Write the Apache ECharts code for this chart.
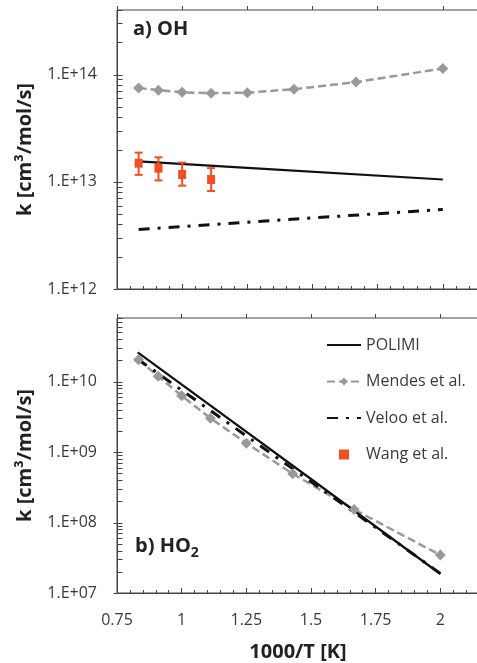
<!DOCTYPE html>
<html>
<head>
<meta charset="utf-8">
<script src="https://cdn.jsdelivr.net/npm/echarts@6/dist/echarts.min.js"></script>
<style>
  html, body { margin: 0; padding: 0; background: #fff; }
  #chart { width: 477px; height: 663px; }
</style>
</head>
<body>
<div id="chart"></div>
<script>
// 1000/T positions of the model points (T = 1200 ... 500 K)
const invT = [0.833, 0.909, 1.0, 1.111, 1.25, 1.429, 1.667, 2.0]
const lineX = [0.833, 1.25, 2.0]
const lineXHo2 = [0.83, 1.5, 2.0]

// a) OH
const ohMendes = [7.5e13, 7.14e13, 6.84e13, 6.7e13, 6.78e13, 7.3e13, 8.5e13, 1.14e14]
const ohPolimi = [1.55e13, 1.35e13, 1.05e13]
const ohVeloo = [3.59e12, 4.2e12, 5.52e12]
const wangX = [0.833, 0.909, 1.0, 1.111]
const wangK = [1.49e13, 1.34e13, 1.17e13, 1.05e13]
const wangLow = [1.16e13, 1.03e13, 9.2e12, 8.2e12]
const wangHigh = [1.87e13, 1.69e13, 1.51e13, 1.34e13]

// b) HO2
const ho2Mendes = [2.05e10, 1.19e10, 6.3e9, 3.03e9, 1.34e9, 4.93e8, 1.53e8, 3.45e7]
const ho2Polimi = [2.6e10, 4.15e8, 1.86e7]
const ho2Veloo = [2.09e10, 3.8e8, 1.9e7]

const xTicks = [0.75, 2.25, 0.25]
const ohRange = [1e12, 4e14]
const ho2Range = [1e7, 8e10]

const FONT = '"Open Sans", "DejaVu Sans", sans-serif'
const AXIS = '#444'
const TXT = '#3a3a3a'
const GRAY = '#999'
const ORANGE = '#f04e23'

const zip = (xs, ys) => xs.map((x, i) => [x, ys[i]])

function logTicks(range) {
  const out = []
  for (let e = Math.floor(Math.log10(range[0])); e <= Math.ceil(Math.log10(range[1])); e++) {
    for (let m = 1; m <= 9; m++) {
      const v = m * Math.pow(10, e)
      if (v >= range[0] * 0.999 && v <= range[1] * 1.001) out.push([xTicks[0], v])
    }
  }
  return out
}

const isDecade = v => Math.abs(Math.log10(v) - Math.round(Math.log10(v))) < 1e-6

function sciLabel(v) {
  if (!isDecade(v)) return ''
  const e = Math.round(Math.log10(v))
  return '1.E+' + (e < 10 ? '0' + e : e)
}

function yTickItem(params, api) {
  const v = api.value(1)
  const p = api.coord([api.value(0), v])
  const y = Math.round(p[1]) + 0.5
  const x = Math.round(p[0]) + 0.5
  return {
    type: 'line',
    shape: { x1: x - (isDecade(v) ? 4 : 0), y1: y, x2: x + 5, y2: y },
    style: { stroke: AXIS, lineWidth: 1 }
  }
}

function errItem(params, api) {
  const x = api.value(0)
  const lo = api.coord([x, api.value(1)])
  const hi = api.coord([x, api.value(2)])
  const st = { stroke: ORANGE, lineWidth: 2 }
  return {
    type: 'group',
    children: [
      { type: 'line', shape: { x1: lo[0], y1: lo[1], x2: hi[0], y2: hi[1] }, style: st },
      { type: 'line', shape: { x1: lo[0] - 4, y1: lo[1], x2: lo[0] + 4, y2: lo[1] }, style: st },
      { type: 'line', shape: { x1: hi[0] - 4, y1: hi[1], x2: hi[0] + 4, y2: hi[1] }, style: st }
    ]
  }
}

function xAxes(grid, labels) {
  const base = {
    gridIndex: grid,
    type: 'value',
    min: xTicks[0],
    max: xTicks[1],
    interval: xTicks[2],
    splitLine: { show: false }
  }
  return [
    Object.assign({}, base, {
      axisLine: { lineStyle: { color: AXIS, width: 1 } },
      axisTick: { inside: true, length: 5, lineStyle: { color: AXIS } },
      minorTick: { show: true, splitNumber: 5, length: 3, lineStyle: { color: AXIS } },
      axisLabel: {
        show: labels,
        margin: 19,
        color: TXT,
        fontSize: 16,
        fontFamily: FONT
      }
    }),
    Object.assign({}, base, {
      axisLine: { show: false },
      axisTick: { inside: false, length: 4, lineStyle: { color: AXIS } },
      axisLabel: { show: false }
    })
  ]
}

function yAxis(grid, range) {
  return {
    gridIndex: grid,
    type: 'log',
    logBase: 10,
    min: range[0],
    max: range[1],
    name: 'k [cm³/mol/s]',
    nameLocation: 'middle',
    nameGap: 82,
    nameTextStyle: { fontSize: 20, fontWeight: 'bold', color: '#222', fontFamily: FONT },
    axisLine: { show: true, lineStyle: { color: AXIS, width: 1 } },
    axisTick: { show: false },
    splitLine: { show: false },
    axisLabel: { margin: 20, color: TXT, fontSize: 16, fontFamily: FONT, formatter: sciLabel }
  }
}

const dashDot = [11, 8, 3, 8]
const hideSymbol = { opacity: 0 }

const chart = echarts.init(document.getElementById('chart'), null, { renderer: 'canvas' })
chart.setOption({
  animation: false,
  backgroundColor: '#fff',
  grid: [
    { left: 117, top: 10, width: 391, height: 279, outerBoundsMode: 'none', containLabel: false, show: true, borderColor: AXIS, borderWidth: 1 },
    { left: 117, top: 318, width: 388, height: 275, outerBoundsMode: 'none', containLabel: false, show: true, borderColor: AXIS, borderWidth: 1 }
  ],
  xAxis: [...xAxes(0, false), ...xAxes(1, true)],
  yAxis: [yAxis(0, ohRange), yAxis(1, ho2Range)],
  legend: {
    orient: 'vertical',
    left: 326,
    top: 337,
    padding: 0,
    itemWidth: 34,
    itemHeight: 10,
    itemGap: 20.5,
    symbolKeepAspect: true,
    textStyle: { fontSize: 16, color: TXT, fontFamily: FONT },
    data: [
      { name: 'POLIMI', itemStyle: hideSymbol },
      { name: 'Mendes et al.' },
      { name: 'Veloo et al.', itemStyle: hideSymbol },
      { name: 'Wang et al.', icon: 'path://M0,0h9v9h-9z', itemStyle: { color: ORANGE, opacity: 1 } }
    ]
  },
  graphic: [
    {
      type: 'text', left: 133, top: 19,
      style: { text: 'a) OH', font: 'bold 20px ' + FONT, fill: '#222' }
    },
    {
      type: 'text', left: 135, top: 536,
      style: {
        text: '{b|b) HO}{s|2}',
        fill: '#222',
        rich: {
          b: { fontSize: 20, fontWeight: 'bold', fontFamily: FONT, fill: '#222', verticalAlign: 'bottom' },
          s: { fontSize: 14, fontWeight: 'bold', fontFamily: FONT, fill: '#222', verticalAlign: 'bottom', padding: [0, 0, -4, 0] }
        }
      }
    },
    {
      type: 'text', x: 298, y: 652,
      style: { text: '1000/T [K]', font: 'bold 20px ' + FONT, fill: '#222', textAlign: 'center', textVerticalAlign: 'middle' }
    }
  ],
  series: [
    // a) OH
    {
      name: 'Mendes et al.', type: 'line', xAxisIndex: 0, yAxisIndex: 0,
      data: zip(invT, ohMendes),
      symbol: 'diamond', symbolSize: 11,
      itemStyle: { color: GRAY },
      lineStyle: { color: GRAY, width: 2.5, type: [8, 4] }
    },
    {
      name: 'POLIMI', type: 'line', xAxisIndex: 0, yAxisIndex: 0,
      data: zip(lineX, ohPolimi), symbol: 'none',
      lineStyle: { color: '#111', width: 2.2 }, itemStyle: { color: '#111' }
    },
    {
      name: 'Veloo et al.', type: 'line', xAxisIndex: 0, yAxisIndex: 0,
      data: zip(lineX, ohVeloo), symbol: 'none',
      lineStyle: { color: '#111', width: 3, type: dashDot }, itemStyle: { color: '#111' }
    },
    {
      type: 'custom', xAxisIndex: 0, yAxisIndex: 0, silent: true,
      data: wangX.map((x, i) => [x, wangLow[i], wangHigh[i]]),
      renderItem: errItem, z: 4
    },
    {
      name: 'Wang et al.', type: 'scatter', xAxisIndex: 0, yAxisIndex: 0,
      data: zip(wangX, wangK), symbol: 'rect', symbolSize: [8, 9],
      itemStyle: { color: ORANGE, opacity: 1 }, z: 5
    },
    // b) HO2
    {
      name: 'Mendes et al.', type: 'line', xAxisIndex: 2, yAxisIndex: 1,
      data: zip(invT, ho2Mendes),
      symbol: 'diamond', symbolSize: 11,
      itemStyle: { color: GRAY },
      lineStyle: { color: GRAY, width: 2.5, type: [8, 4] }
    },
    {
      name: 'Veloo et al.', type: 'line', xAxisIndex: 2, yAxisIndex: 1,
      data: zip(lineXHo2, ho2Veloo), symbol: 'none',
      lineStyle: { color: '#111', width: 3, type: dashDot }
    },
    {
      name: 'POLIMI', type: 'line', xAxisIndex: 2, yAxisIndex: 1,
      data: zip(lineXHo2, ho2Polimi), symbol: 'none',
      lineStyle: { color: '#111', width: 2.2 }
    },
    // y-axis ticks (decades crossing, minors inside)
    {
      type: 'custom', xAxisIndex: 0, yAxisIndex: 0, silent: true,
      data: logTicks(ohRange), renderItem: yTickItem
    },
    {
      type: 'custom', xAxisIndex: 2, yAxisIndex: 1, silent: true,
      data: logTicks(ho2Range), renderItem: yTickItem
    }
  ]
})
</script>
</body>
</html>
